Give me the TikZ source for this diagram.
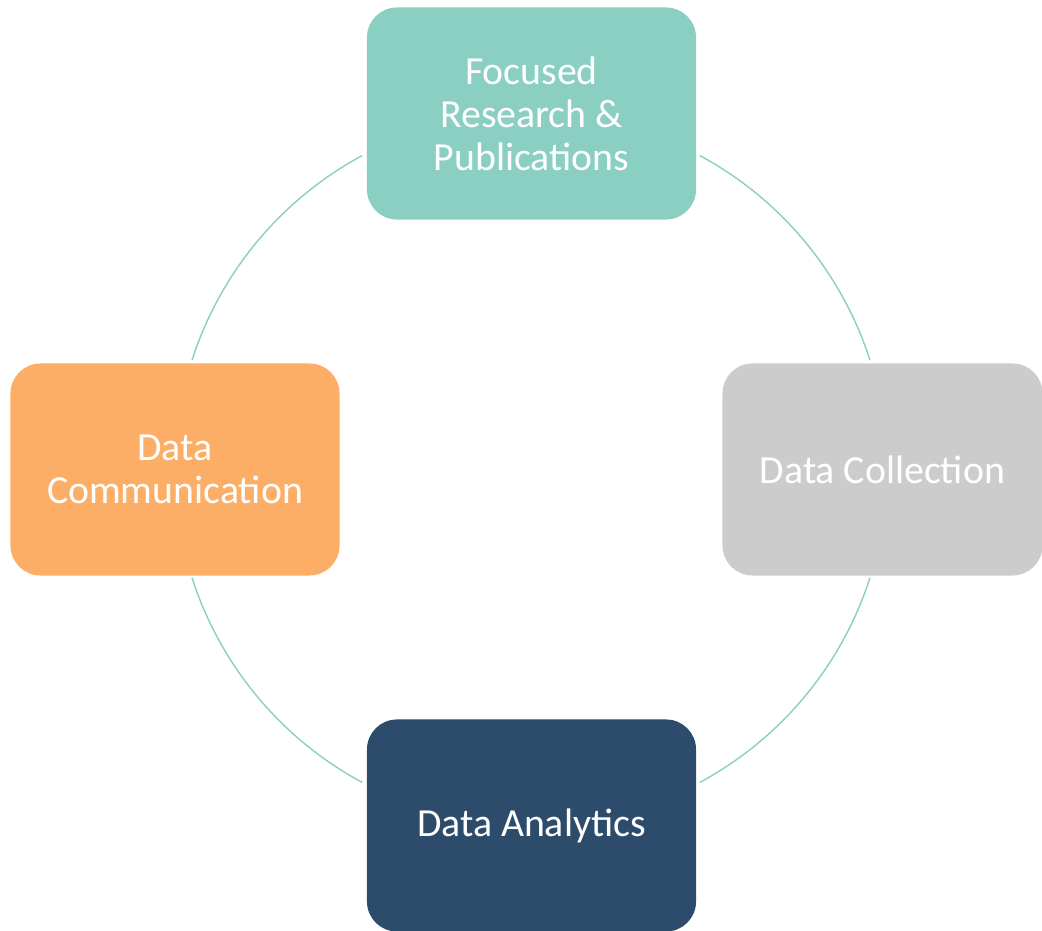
\documentclass[tikz,border=0pt]{standalone}
\usepackage{fontspec}
\setmainfont{Carlito}
\usetikzlibrary{positioning}
\definecolor{teal1}{HTML}{8BCFC2}
\definecolor{orange1}{HTML}{FDAE66}
\definecolor{grey1}{HTML}{CCCCCC}
\definecolor{navy1}{HTML}{2D4B6B}
\begin{document}
\begin{tikzpicture}[x=0.025cm, y=0.025cm]
    \tikzstyle{proc} = [rectangle, rounded corners=0.75cm, minimum width=8.225cm, minimum height=5.3cm, text centered, align=center, text=white, font=\fontsize{28.3}{30.5}\selectfont]
    \tikzstyle{link} = [teal1, line width=1pt]
    \useasboundingbox (0,0) rectangle (1042,931);
    \coordinate (o) at (531,462);
    \node (a) [proc, fill=teal1] at (531.5,817.5) {Focused\\Research \&\\Publications};
    \node (b) [proc, fill=grey1, minimum width=8cm] at (882.5,461.5) {Data Collection};
    \node (c) [proc, fill=navy1] at (531.5,105.5) {Data Analytics};
    \node (d) [proc, fill=orange1] at (175,461.5) {Data\\Communication};
    % ring between the boxes
    \draw[link] ([shift={(61.7:356)}]o) arc[start angle=61.7, end angle=17.8, radius=356];
    \draw[link] ([shift={(-17.8:356)}]o) arc[start angle=-17.8, end angle=-61.7, radius=356];
    \draw[link] ([shift={(-118.3:356)}]o) arc[start angle=-118.3, end angle=-162.2, radius=356];
    \draw[link] ([shift={(162.2:356)}]o) arc[start angle=162.2, end angle=118.3, radius=356];
\end{tikzpicture}
\end{document}
